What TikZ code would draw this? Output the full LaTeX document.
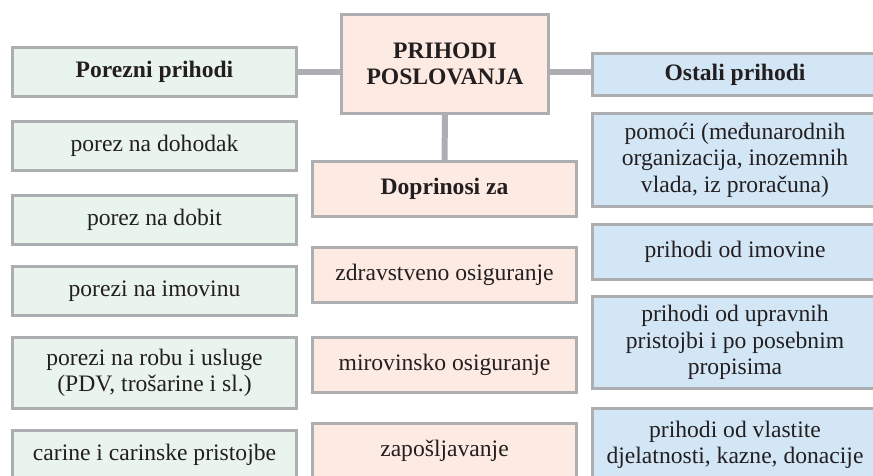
\documentclass[tikz,border=0pt]{standalone}
\usepackage{fontspec}
\setmainfont{Liberation Serif}
\usetikzlibrary{positioning, backgrounds}
\definecolor{boxgray}{RGB}{172, 174, 177}
\definecolor{porezgreen}{RGB}{233, 244, 236}
\definecolor{dopripink}{RGB}{253, 234, 226}
\definecolor{ostaliblue}{RGB}{211, 230, 246}
\definecolor{inkdark}{RGB}{35, 31, 32}

\begin{document}
\begin{tikzpicture}[x=0.5pt, y=-0.5pt,
        box/.style={draw=boxgray, line width=1.5pt, align=center, inner sep=2pt, text=inkdark, font=\fontsize{11.8}{13.3}\selectfont},
        porez/.style={box, fill=porezgreen, minimum width=142pt, minimum height=24.5pt},
        dopri/.style={box, fill=dopripink, minimum width=132pt, minimum height=27.5pt},
        ostali/.style={box, fill=ostaliblue, minimum width=142.5pt, minimum height=27.5pt},
        head/.style={font=\fontsize{11.8}{13.3}\selectfont\bfseries},
        link/.style={draw=boxgray, line width=3pt}
    ]
        \clip (0,0) rectangle (873,476);

        % Sredina
        \node[dopri, head, minimum width=103.5pt, minimum height=49.5pt] (prihodi) at (445,64) {PRIHODI\\POSLOVANJA};
        \node[dopri, head] (doprinosi) at (444.5,189) {Doprinosi za};
        \node[dopri] (zdrav) at (444.5,275) {zdravstveno osiguranje};
        \node[dopri] (mirov) at (444.5,364.5) {mirovinsko osiguranje};
        \node[dopri] (zaposl) at (444.5,451) {zapošljavanje};

        % Porezni prihodi
        \node[porez, head] (porezni) at (154.5,72) {Porezni prihodi};
        \node[porez] (dohodak) at (154.5,146) {porez na dohodak};
        \node[porez] (dobit) at (154.5,219.5) {porez na dobit};
        \node[porez] (imovina) at (154.5,291) {porezi na imovinu};
        \node[porez, minimum height=35.5pt] (roba) at (154.5,373) {porezi na robu i usluge\\(PDV, trošarine i sl.)};
        \node[porez] (carine) at (154.5,455) {carine i carinske pristojbe};

        % Ostali prihodi
        \node[ostali, head, minimum height=21pt] (ostalih) at (735,74.5) {Ostali prihodi};
        \node[ostali, minimum height=46.5pt] (pomoci) at (735,160) {pomoći (međunarodnih\\organizacija, inozemnih\\vlada, iz proračuna)};
        \node[ostali] (imovine) at (735,252) {prihodi od imovine};
        \node[ostali, minimum height=46pt] (upravne) at (735,342.5) {prihodi od upravnih\\pristojbi i po posebnim\\propisima};
        \node[ostali, minimum height=36.5pt] (vlastite) at (735,445) {prihodi od vlastite\\djelatnosti, kazne, donacije};

        % Veze
        \begin{scope}[on background layer]
            \draw[link] (porezni.east) -- (porezni.east -| prihodi.west);
            \draw[link] (porezni.east -| prihodi.east) -- (porezni.east -| ostalih.west);
            \draw[link] (prihodi.south) -- (doprinosi.north);
        \end{scope}
    \end{tikzpicture}
\end{document}
